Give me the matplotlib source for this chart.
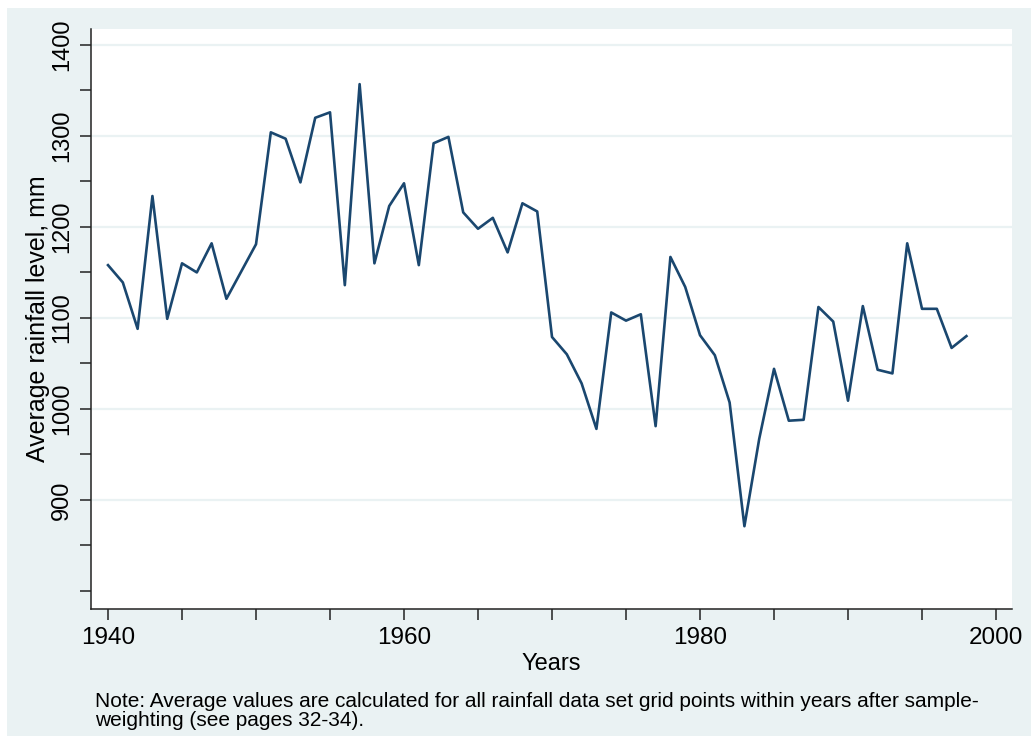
import matplotlib.pyplot as plt
from matplotlib.patches import Rectangle

years = list(range(1940, 1999))
rainfall = [1158, 1139, 1088, 1234, 1099, 1160, 1150, 1182, 1121, 1151,
            1181, 1304, 1297, 1249, 1320, 1326, 1136, 1357, 1160, 1223,
            1248, 1158, 1292, 1299, 1216, 1198, 1210, 1172, 1226, 1217,
            1079, 1060, 1028, 978, 1106, 1097, 1104, 981, 1167, 1134,
            1081, 1059, 1007, 871, 967, 1044, 987, 988, 1112, 1096,
            1009, 1113, 1043, 1039, 1182, 1110, 1110, 1067, 1080]

ylabels = [900, 1000, 1100, 1200, 1300, 1400]
yticks = list(range(800, 1401, 50))
xlabels = [1940, 1960, 1980, 2000]
xticks = list(range(1940, 2001, 5))

BG = '#eaf2f3'
NAVY = '#1a476f'

plt.rcParams['font.family'] = ['Liberation Sans', 'DejaVu Sans']

fig = plt.figure(figsize=(10.31, 7.36), dpi=100, facecolor='white')
fig.patches.append(Rectangle((7 / 1031, 0), 1, 1 - 8 / 736, transform=fig.transFigure,
                             facecolor=BG, edgecolor='none', zorder=-10))

ax = fig.add_axes([91 / 1031, 127 / 736, 921 / 1031, 580 / 736])
ax.set_facecolor('white')

for v in ylabels:
    ax.axhline(v, color=BG, linewidth=1.6, zorder=1)

ax.plot(years, rainfall, color=NAVY, linewidth=1.9, zorder=3)

ax.set_xlim(1938.85, 2001.08)
ax.set_ylim(780, 1417.6)

ax.set_yticks(yticks)
ax.set_yticklabels([str(v) if v in ylabels else '' for v in yticks],
                   rotation=90, va='center', fontsize=17)
ax.set_xticks(xticks)
ax.set_xticklabels([str(v) if v in xlabels else '' for v in xticks], fontsize=17.5)
ax.tick_params(axis='both', length=8, width=1.1, color='#222222', pad=5)

for s in ['top', 'right']:
    ax.spines[s].set_visible(False)
for s in ['left', 'bottom']:
    ax.spines[s].set_color('#222222')
    ax.spines[s].set_linewidth(1.1)

ax.set_xlabel('Years', fontsize=17, labelpad=3)
ax.set_ylabel('Average rainfall level, mm', fontsize=18, labelpad=1)

fig.text(95 / 1031, 1 - 711 / 736,
         'Note: Average values are calculated for all rainfall data set grid points within years after sample-\n'
         'weighting (see pages 32-34).',
         fontsize=15, va='center', ha='left', linespacing=0.95)

fig.savefig('out.png', dpi=100, facecolor=fig.get_facecolor())
